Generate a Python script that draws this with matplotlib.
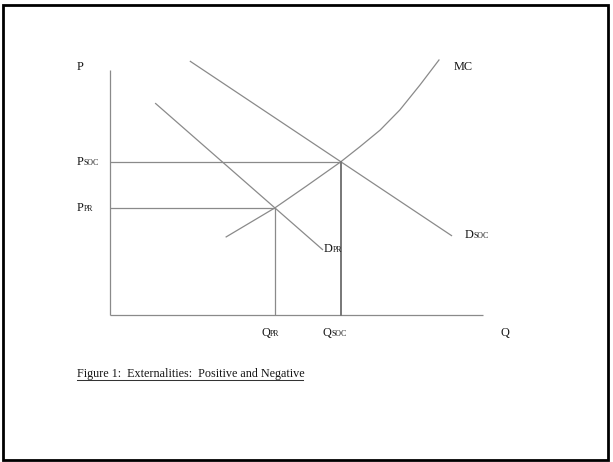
import matplotlib
matplotlib.use("Agg")
import matplotlib.pyplot as plt
from matplotlib.patches import Rectangle
from matplotlib.lines import Line2D

# ---- data (economic units) ----
q_pr, q_soc = 4.42, 6.18
p_pr, p_soc = 4.2, 6.0
d_soc_q = [2.14, 9.17]
d_soc_p = [9.96, 3.1]
d_pr_q = [1.21, 5.71]
d_pr_p = [8.31, 2.55]
mc_q = [3.10, 4.42, 5.27, 6.18, 6.70, 7.24, 7.77, 8.31, 8.83]
mc_p = [3.05, 4.2, 5.06, 6.0, 6.60, 7.25, 8.04, 9.02, 10.02]
axis_q_max, axis_p_max = 10.0, 9.6

W, H = 613, 462
fig = plt.figure(figsize=(W / 100, H / 100), dpi=100)
fig.patch.set_facecolor("white")
ax = fig.add_axes([110 / W, (H - 315) / H, 373 / W, 255 / H])
ax.set_xlim(0, 10)
ax.set_ylim(0, 10)
ax.axis("off")

gray = "#8a8a8a"
lw = 0.9
kw = dict(color=gray, lw=lw, solid_capstyle="butt", solid_joinstyle="round", clip_on=False)

# axes lines
ax.plot([0, 0], [0, axis_p_max], **kw)
ax.plot([0, axis_q_max], [0, 0], **kw)
# curves
ax.plot(d_soc_q, d_soc_p, **kw)
ax.plot(d_pr_q, d_pr_p, **kw)
ax.plot(mc_q, mc_p, **kw)
# guide lines
ax.plot([0, q_soc], [p_soc, p_soc], **kw)
ax.plot([0, q_pr], [p_pr, p_pr], **kw)
ax.plot([q_pr, q_pr], [0, p_pr], **kw)
ax.plot([q_soc, q_soc], [0, p_soc], color="#777777", lw=1.4, clip_on=False)

font = ["Liberation Serif", "DejaVu Serif"]
fs_main, fs_sub = 8.8, 5.6
tc = "#161616"


def label(x, y, main, sub="", sub_off=5.0):
    ax.text(x, y, main, family=font, fontsize=fs_main, color=tc,
            ha="left", va="center", clip_on=False)
    if sub:
        ax.annotate(sub, (x, y), xytext=(sub_off, -1.0), textcoords="offset points",
                    family=font, fontsize=fs_sub, color=tc, ha="left", va="center",
                    annotation_clip=False)


label(-0.885, 9.73, "P")
label(-0.885, p_soc, "P", "SOC")
label(-0.885, p_pr, "P", "PR")
label(9.22, 9.73, "MC", sub_off=0)
label(9.52, 3.14, "D", "SOC", sub_off=6.2)
label(5.74, 2.59, "D", "PR", sub_off=6.2)
label(4.05, -0.71, "Q", "PR", sub_off=6.2)
label(5.71, -0.71, "Q", "SOC", sub_off=6.2)
label(10.46, -0.71, "Q")

# caption
fig.text(77 / W, 1 - 374 / H, "Figure 1:  Externalities:  Positive and Negative",
         family=font, fontsize=8.7, color=tc, ha="left", va="center")
fig.add_artist(Line2D([77 / W, 303 / W], [1 - 380 / H, 1 - 380 / H],
                      color="#333333", lw=0.75, transform=fig.transFigure))

# outer frame
fig.add_artist(Rectangle((3 / W, 2.5 / H), (W - 5.5) / W - 3 / W, (H - 5) / H - 2.5 / H,
                         transform=fig.transFigure, fill=False, ec="black", lw=2.0))

fig.savefig("out.png", dpi=100)
